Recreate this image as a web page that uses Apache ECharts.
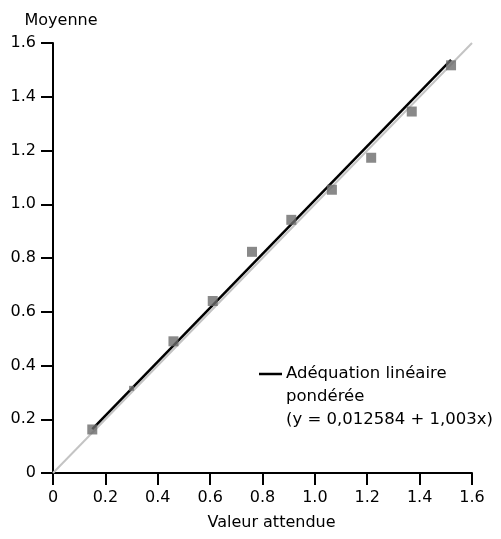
<!DOCTYPE html>
<html>
<head>
<meta charset="utf-8">
<script src="https://cdn.jsdelivr.net/npm/echarts@6/dist/echarts.min.js"></script>
<style>
  html, body { margin: 0; padding: 0; background: #fff; }
  #chart { width: 501px; height: 539px; }
</style>
</head>
<body>
<div id="chart"></div>
<script>
// valeurs attendues (x) et moyennes mesurées (y)
var expected = [0.15, 0.30, 0.46, 0.61, 0.76, 0.91, 1.065, 1.215, 1.37, 1.52];
var means = [0.162, 0.315, 0.49, 0.64, 0.823, 0.942, 1.054, 1.173, 1.345, 1.517];
var tickValues = [0, 0.2, 0.4, 0.6, 0.8, 1.0, 1.2, 1.4, 1.6];
// ajustement linéaire pondéré
var fitIntercept = 0.012584;
var fitSlope = 1.003;

var points = expected.map(function (x, i) { return [x, means[i]]; });
var xFirst = expected[0], xLast = expected[expected.length - 1];
var fitLine = [[xFirst, fitIntercept + fitSlope * xFirst], [xLast, fitIntercept + fitSlope * xLast]];
var identity = [[tickValues[0], tickValues[0]], [tickValues[tickValues.length - 1], tickValues[tickValues.length - 1]]];

var font = 'DejaVu Sans';

var myChart = echarts.init(document.getElementById('chart'));
var option = {
    animation: false,
    textStyle: { fontFamily: font },
    grid: { left: 53, right: 29, top: 43, bottom: 66, containLabel: false },
    xAxis: {
        type: 'value',
        min: 0, max: 1.6, interval: 0.2,
        name: 'Valeur attendue',
        nameLocation: 'middle',
        nameGap: 42,
        nameTextStyle: { color: '#000', fontSize: 16, fontFamily: font, padding: [0, 0, 0, 18] },
        axisLine: { show: true, onZero: false, lineStyle: { color: '#000', width: 2 } },
        axisTick: { show: true, length: 12, lineStyle: { color: '#000', width: 2 } },
        axisLabel: {
            color: '#000', fontSize: 16, fontFamily: font, margin: 17,
            formatter: function (v) { return v === 0 ? '0' : v.toFixed(1); }
        },
        splitLine: { show: false }
    },
    yAxis: {
        type: 'value',
        min: 0, max: 1.6, interval: 0.2,
        name: 'Moyenne',
        nameLocation: 'end',
        nameGap: 14,
        nameTextStyle: { color: '#000', fontSize: 16, fontFamily: font, align: 'center', padding: [0, 0, 0, 16] },
        axisLine: { show: true, onZero: false, lineStyle: { color: '#000', width: 2 } },
        axisTick: { show: true, length: 12, lineStyle: { color: '#000', width: 2 } },
        axisLabel: {
            color: '#000', fontSize: 16, fontFamily: font, margin: 17,
            formatter: function (v) { return v === 0 ? '0' : v.toFixed(1); }
        },
        splitLine: { show: false }
    },
    series: [
        {
            name: 'identité',
            type: 'line',
            data: identity,
            showSymbol: false,
            lineStyle: { color: '#c4c4c4', width: 2 },
            z: 1
        },
        {
            name: 'Adéquation linéaire pondérée',
            type: 'line',
            data: fitLine,
            showSymbol: false,
            lineStyle: { color: '#000', width: 2.5 },
            z: 2
        },
        {
            name: 'Moyenne',
            type: 'scatter',
            data: points,
            symbol: 'rect',
            symbolSize: function (val, params) { return params.dataIndex === 1 ? 5 : 10; },
            itemStyle: { color: '#6c6c6c' },
            z: 3
        }
    ],
    graphic: [
        {
            type: 'line',
            shape: { x1: 259, y1: 374, x2: 282, y2: 374 },
            style: { stroke: '#000', lineWidth: 2.5 }
        },
        {
            type: 'text',
            left: 286,
            top: 362,
            style: {
                text: 'Adéquation linéaire\npondérée\n(y = 0,012584 + 1,003x)',
                fill: '#000',
                font: '16.5px "DejaVu Sans"',
                lineHeight: 23
            }
        }
    ]
};
myChart.setOption(option);
</script>
</body>
</html>
